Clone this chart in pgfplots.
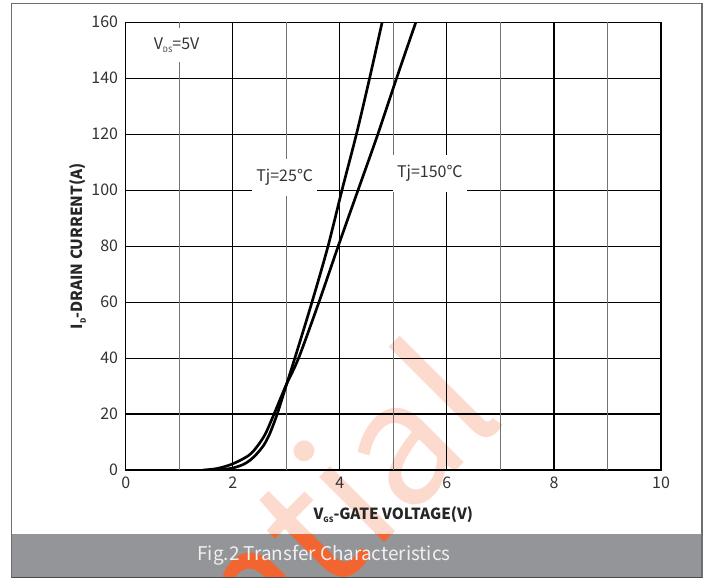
\documentclass[border=0pt]{standalone}
\usepackage{pgfplots}
\pgfplotsset{compat=1.18}
\usepackage{fontspec}
\setmainfont{Noto Sans CJK SC}
\definecolor{framec}{HTML}{6D6E71}
\definecolor{bannerc}{HTML}{939598}
\definecolor{wm}{HTML}{F26531}
\colorlet{wmpale}{wm!24!white}
\definecolor{txt}{HTML}{333333}
\newcommand{\sub}[1]{\raisebox{-0.35ex}{\fontsize{5.5}{6}\selectfont #1}}
\newcommand{\wmark}[1]{\node[rotate=45, anchor=base east, text=#1, font=\fontsize{127}{127}\selectfont, inner sep=0pt] at (508,162) {Confidential};}
\begin{document}
\begin{tikzpicture}
\begin{scope}[x=0.75pt,y=0.75pt]
\useasboundingbox (0,0) rectangle (711,581);
\fill[white] (0,0) rectangle (711,581);
\fill[bannerc] (12,4) rectangle (702,47);
\begin{scope}
\clip (12,4) rectangle (702,47);
\wmark{wm}
\end{scope}
\begin{scope}
\clip (12,47) rectangle (702,577);
\wmark{wmpale}
\end{scope}
\draw[framec, line width=1.2pt] (11.5,3.5) rectangle (702,577.5);
\draw[black!70, line width=1.2pt] (11.5,3.5) -- (702,3.5);
\node[text=white!94!black, font=\fontsize{14.2}{16}\selectfont] at (324,26) {Fig.2 Transfer Characteristics};
\end{scope}
\begin{axis}[
  at={(94.275pt,83.25pt)}, anchor=south west, scale only axis,
  width=401.5pt, height=335.8pt,
  xmin=0, xmax=10, ymin=0, ymax=160,
  xtick={0,2,...,10}, ytick={0,20,...,160},
  extra x ticks={1,3,5,7,9}, extra x tick labels={},
  extra x tick style={grid=major, major grid style={color=black!55, line width=0.8pt}},
  grid=major, major grid style={black, line width=0.8pt},
  axis line style={black, line width=1.1pt},
  major tick length=0pt,
  /pgf/number format/assume math mode=true,
  tick label style={font=\fontsize{12}{13}\selectfont, text=txt},
  xticklabel style={anchor=north, inner sep=0pt, yshift=-5pt},
  yticklabel style={anchor=east, inner sep=0pt, xshift=-5.5pt},
  xlabel={V\sub{GS}-GATE VOLTAGE(V)},
  ylabel={I\sub{D}-DRAIN CURRENT(A)},
  label style={font=\bfseries\fontsize{11.5}{13}\selectfont, text=black!85},
  xlabel style={at={(axis description cs:0.5,0)}, anchor=center, yshift=-33.75pt},
  ylabel style={at={(axis description cs:-0.0891,0.5)}, anchor=center},
]
\addplot[black, line width=2pt, smooth] coordinates {
(1.6,0) (1.8,0.2) (2.0,0.7) (2.2,2.0) (2.33,3.6) (2.45,5.8) (2.58,8.9) (2.68,12.5) (2.76,16.3) (2.83,20) (2.91,24.8) (3.0,30.3) (3.16,40) (3.48,60) (3.78,80) (4.04,100) (4.31,120) (4.556,140) (4.79,160) (4.85,165)};
\addplot[black, line width=2pt, smooth] coordinates {
(1.45,0) (1.7,0.5) (2.0,2.2) (2.33,5.7) (2.58,11.9) (2.76,19.5) (3.0,30.5) (3.23,40) (3.61,60) (3.97,80) (4.34,100) (4.71,120) (5.06,140) (5.42,160) (5.5,164)};
\node[fill=white, inner xsep=4pt, inner ysep=7pt, text=txt, font=\fontsize{12}{13}\selectfont, anchor=west] at (axis cs:0.42,151.8) {V\sub{DS}=5V};
\node[fill=white, inner xsep=3pt, inner ysep=8pt, text=txt, font=\fontsize{12}{13}\selectfont] at (axis cs:2.97,104.5) {Tj=25℃};
\node[fill=white, inner xsep=3pt, inner ysep=8pt, text=txt, font=\fontsize{12}{13}\selectfont] at (axis cs:5.68,106) {Tj=150℃};
\end{axis}
\end{tikzpicture}
\end{document}
